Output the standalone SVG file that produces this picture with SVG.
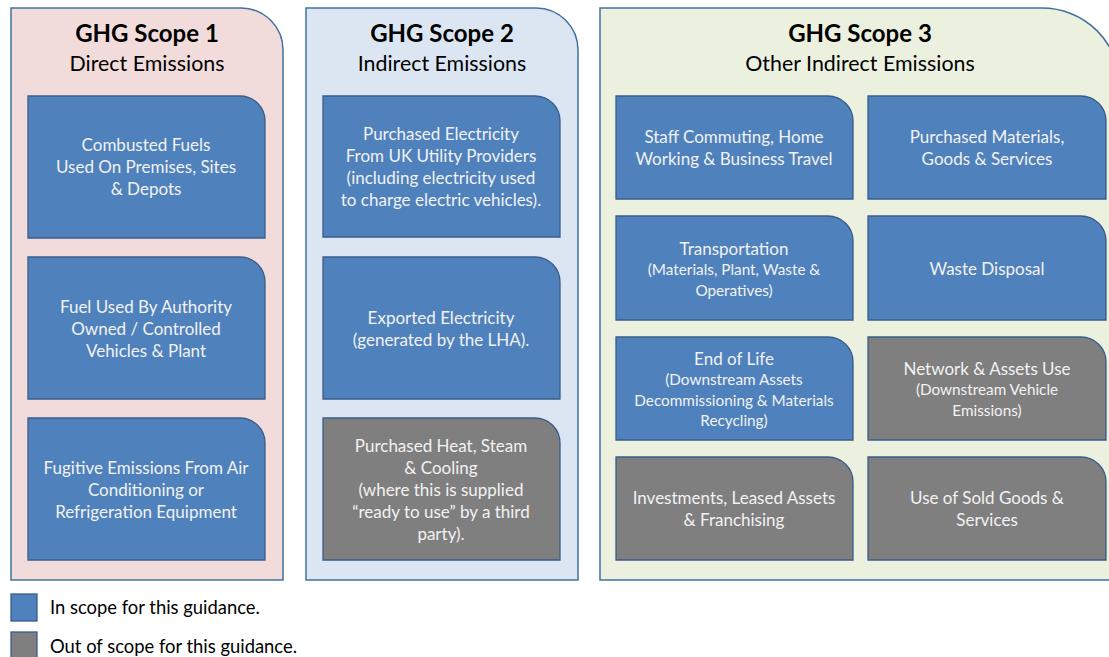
<svg xmlns="http://www.w3.org/2000/svg" width="1109" height="657" viewBox="0 0 1109 657">
  <style>
    .panel { stroke: #41719C; stroke-width: 1.5; }
    .p1 { fill: #F2DCDB; }
    .p2 { fill: #DCE6F2; }
    .p3 { fill: #EBF1DE; }
    .box { stroke: #385D8A; stroke-width: 1.3; }
    .in { fill: #4F81BD; }
    .out { fill: #7F7F7F; }
    text { font-family: Lato, "Liberation Sans", sans-serif; text-anchor: middle; }
    .title { font-size: 24px; font-weight: bold; fill: #000; }
    .sub { font-size: 21.4px; fill: #000; }
    .t { font-size: 17px; fill: #F2F2F2; }
    .s { font-size: 15.3px; fill: #F2F2F2; }
    .leg { font-size: 18.4px; fill: #000; text-anchor: start; }
  </style>

  <!-- Scope 1 panel -->
  <g id="scope1">
    <path class="panel p1" d="M11,8 H241 A42,42 0 0 1 283,50 V580 H11 Z"/>
    <text class="title" x="147" y="42">GHG Scope 1</text>
    <text class="sub" x="147" y="71">Direct Emissions</text>
  </g>
  <g id="s1-fuels">
    <path class="box in" d="M28,96 H240 A25,25 0 0 1 265,121 V238 H28 Z"/>
    <text class="t" x="146" y="151">Combusted Fuels</text>
    <text class="t" x="146" y="173">Used On Premises, Sites</text>
    <text class="t" x="146" y="195">&amp; Depots</text>
  </g>
  <g id="s1-vehicles">
    <path class="box in" d="M28,257 H240 A25,25 0 0 1 265,282 V399 H28 Z"/>
    <text class="t" x="146" y="313">Fuel Used By Authority</text>
    <text class="t" x="146" y="335">Owned / Controlled</text>
    <text class="t" x="146" y="357">Vehicles &amp; Plant</text>
  </g>
  <g id="s1-fugitive">
    <path class="box in" d="M28,418 H240 A25,25 0 0 1 265,443 V560 H28 Z"/>
    <text class="t" x="146" y="474">Fugitive Emissions From Air</text>
    <text class="t" x="146" y="496">Conditioning or</text>
    <text class="t" x="146" y="518">Refrigeration Equipment</text>
  </g>

  <!-- Scope 2 panel -->
  <g id="scope2">
    <path class="panel p2" d="M306,8 H536 A42,42 0 0 1 578,50 V580 H306 Z"/>
    <text class="title" x="442" y="42">GHG Scope 2</text>
    <text class="sub" x="442" y="71">Indirect Emissions</text>
  </g>
  <g id="s2-electricity">
    <path class="box in" d="M323,96 H535 A25,25 0 0 1 560,121 V237 H323 Z"/>
    <text class="t" x="441" y="140">Purchased Electricity</text>
    <text class="t" x="441" y="162">From UK Utility Providers</text>
    <text class="t" x="441" y="184">(including electricity used</text>
    <text class="t" x="441" y="206">to charge electric vehicles).</text>
  </g>
  <g id="s2-exported">
    <path class="box in" d="M323,257 H535 A25,25 0 0 1 560,282 V399 H323 Z"/>
    <text class="t" x="441" y="324">Exported Electricity</text>
    <text class="t" x="441" y="346">(generated by the LHA).</text>
  </g>
  <g id="s2-heat">
    <path class="box out" d="M323,418 H535 A25,25 0 0 1 560,443 V560 H323 Z"/>
    <text class="t" x="441" y="452">Purchased Heat, Steam</text>
    <text class="t" x="441" y="474">&amp; Cooling</text>
    <text class="t" x="441" y="496">(where this is supplied</text>
    <text class="t" x="441" y="518">“ready to use” by a third</text>
    <text class="t" x="441" y="540">party).</text>
  </g>

  <!-- Scope 3 panel (right edge runs past the canvas) -->
  <g id="scope3">
    <path class="panel p3" d="M600,8 H1042 A78,78 0 0 1 1120,86 V580 H600 Z"/>
    <text class="title" x="860" y="42">GHG Scope 3</text>
    <text class="sub" x="860" y="71">Other Indirect Emissions</text>
  </g>
  <g id="s3-travel">
    <path class="box in" d="M616,96 H828 A25,25 0 0 1 853,121 V199 H616 Z"/>
    <text class="t" x="734" y="143">Staff Commuting, Home</text>
    <text class="t" x="734" y="165">Working &amp; Business Travel</text>
  </g>
  <g id="s3-materials">
    <path class="box in" d="M868,96 H1081 A25,25 0 0 1 1106,121 V199 H868 Z"/>
    <text class="t" x="987" y="143">Purchased Materials,</text>
    <text class="t" x="987" y="165">Goods &amp; Services</text>
  </g>
  <g id="s3-transport">
    <path class="box in" d="M616,216 H828 A25,25 0 0 1 853,241 V320 H616 Z"/>
    <text class="t" x="734" y="255">Transportation</text>
    <text class="s" x="734" y="275">(Materials, Plant, Waste &amp;</text>
    <text class="s" x="734" y="296">Operatives)</text>
  </g>
  <g id="s3-waste">
    <path class="box in" d="M868,216 H1081 A25,25 0 0 1 1106,241 V320 H868 Z"/>
    <text class="t" x="987" y="275">Waste Disposal</text>
  </g>
  <g id="s3-endoflife">
    <path class="box in" d="M616,337 H828 A25,25 0 0 1 853,362 V440 H616 Z"/>
    <text class="t" x="734" y="365">End of Life</text>
    <text class="s" x="734" y="385">(Downstream Assets</text>
    <text class="s" x="734" y="406">Decommissioning &amp; Materials</text>
    <text class="s" x="734" y="426">Recycling)</text>
  </g>
  <g id="s3-network">
    <path class="box out" d="M868,337 H1081 A25,25 0 0 1 1106,362 V440 H868 Z"/>
    <text class="t" x="987" y="375">Network &amp; Assets Use</text>
    <text class="s" x="987" y="395">(Downstream Vehicle</text>
    <text class="s" x="987" y="416">Emissions)</text>
  </g>
  <g id="s3-investments">
    <path class="box out" d="M616,457 H828 A25,25 0 0 1 853,482 V560 H616 Z"/>
    <text class="t" x="734" y="504">Investments, Leased Assets</text>
    <text class="t" x="734" y="526">&amp; Franchising</text>
  </g>
  <g id="s3-soldgoods">
    <path class="box out" d="M868,457 H1081 A25,25 0 0 1 1106,482 V560 H868 Z"/>
    <text class="t" x="987" y="504">Use of Sold Goods &amp;</text>
    <text class="t" x="987" y="526">Services</text>
  </g>

  <!-- Legend -->
  <g id="legend">
    <rect class="box in" x="11" y="594" width="26" height="27"/>
    <text class="leg" x="50" y="614">In scope for this guidance.</text>
    <rect class="box out" x="11" y="632" width="26" height="27"/>
    <text class="leg" x="50" y="653">Out of scope for this guidance.</text>
  </g>

  <!-- No connectors in this diagram -->
  <g id="connectors"/>
</svg>
